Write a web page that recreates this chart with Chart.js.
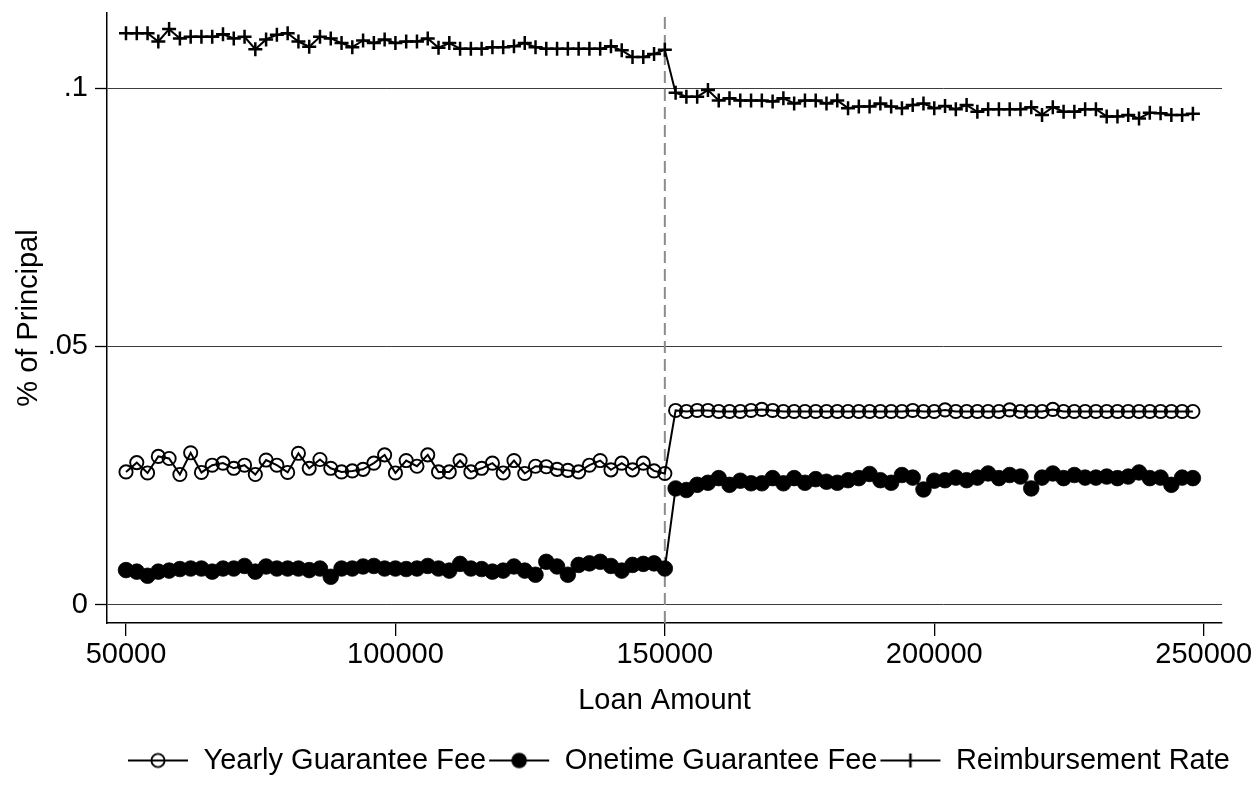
<!DOCTYPE html>
<html>
<head>
<meta charset="utf-8">
<script src="https://cdn.jsdelivr.net/npm/chart.js@4.4.1/dist/chart.umd.min.js"></script>
<style>
  html, body { margin: 0; padding: 0; background: #fff; overflow: hidden; }
  canvas { display: block; }
</style>
</head>
<body>
<canvas id="chart" width="1256" height="790"></canvas>
<script>
// Loan amount bins (x values)
const loanAmount = [
  50000, 52000, 54000, 56000, 58000, 60000, 62000, 64000, 66000, 68000,
  70000, 72000, 74000, 76000, 78000, 80000, 82000, 84000, 86000, 88000,
  90000, 92000, 94000, 96000, 98000, 100000, 102000, 104000, 106000, 108000,
  110000, 112000, 114000, 116000, 118000, 120000, 122000, 124000, 126000, 128000,
  130000, 132000, 134000, 136000, 138000, 140000, 142000, 144000, 146000, 148000,
  150000, 152000, 154000, 156000, 158000, 160000, 162000, 164000, 166000, 168000,
  170000, 172000, 174000, 176000, 178000, 180000, 182000, 184000, 186000, 188000,
  190000, 192000, 194000, 196000, 198000, 200000, 202000, 204000, 206000, 208000,
  210000, 212000, 214000, 216000, 218000, 220000, 222000, 224000, 226000, 228000,
  230000, 232000, 234000, 236000, 238000, 240000, 242000, 244000, 246000, 248000
];

// Yearly guarantee fee, share of principal
const yearlyFee = [
  0.0257, 0.0275, 0.0255, 0.0287, 0.0283, 0.0252, 0.0294, 0.0256, 0.0270, 0.0274,
  0.0264, 0.0270, 0.0252, 0.0280, 0.0270, 0.0256, 0.0293, 0.0264, 0.0281, 0.0264,
  0.0257, 0.0259, 0.0262, 0.0274, 0.0290, 0.0255, 0.0279, 0.0268, 0.0290, 0.0257,
  0.0257, 0.0279, 0.0257, 0.0264, 0.0274, 0.0255, 0.0279, 0.0254, 0.0268, 0.0267,
  0.0262, 0.0260, 0.0257, 0.0270, 0.0279, 0.0261, 0.0274, 0.0261, 0.0274, 0.0259,
  0.0254, 0.0376, 0.0374, 0.0376, 0.0376, 0.0374, 0.0374, 0.0374, 0.0376, 0.0378,
  0.0376, 0.0374, 0.0374, 0.0374, 0.0374, 0.0374, 0.0374, 0.0374, 0.0374, 0.0374,
  0.0374, 0.0374, 0.0374, 0.0376, 0.0374, 0.0374, 0.0377, 0.0374, 0.0374, 0.0374,
  0.0374, 0.0374, 0.0377, 0.0374, 0.0374, 0.0374, 0.0378, 0.0374, 0.0374, 0.0374,
  0.0374, 0.0374, 0.0374, 0.0374, 0.0374, 0.0374, 0.0374, 0.0374, 0.0374, 0.0374
];

// One-time guarantee fee, share of principal
const onetimeFee = [
  0.0067, 0.0064, 0.0056, 0.0064, 0.0066, 0.0069, 0.0070, 0.0070, 0.0064, 0.0070,
  0.0070, 0.0075, 0.0064, 0.0074, 0.0070, 0.0070, 0.0070, 0.0067, 0.0070, 0.0054,
  0.0070, 0.0070, 0.0074, 0.0075, 0.0070, 0.0070, 0.0069, 0.0070, 0.0075, 0.0070,
  0.0066, 0.0079, 0.0070, 0.0069, 0.0064, 0.0066, 0.0074, 0.0066, 0.0058, 0.0083,
  0.0074, 0.0058, 0.0077, 0.0080, 0.0083, 0.0075, 0.0066, 0.0077, 0.0079, 0.0080,
  0.0070, 0.0225, 0.0222, 0.0232, 0.0236, 0.0245, 0.0232, 0.0240, 0.0235, 0.0235,
  0.0245, 0.0235, 0.0245, 0.0236, 0.0243, 0.0238, 0.0236, 0.0241, 0.0245, 0.0253,
  0.0241, 0.0236, 0.0251, 0.0246, 0.0223, 0.0240, 0.0241, 0.0246, 0.0241, 0.0246,
  0.0254, 0.0245, 0.0251, 0.0248, 0.0225, 0.0246, 0.0254, 0.0245, 0.0251, 0.0246,
  0.0246, 0.0248, 0.0245, 0.0248, 0.0256, 0.0245, 0.0246, 0.0232, 0.0246, 0.0245
];

// Reimbursement rate, share of principal
const reimbursementRate = [
  0.1106, 0.1106, 0.1106, 0.1090, 0.1114, 0.1096, 0.1099, 0.1099, 0.1099, 0.1104,
  0.1096, 0.1099, 0.1075, 0.1094, 0.1103, 0.1106, 0.1090, 0.1080, 0.1099, 0.1096,
  0.1087, 0.1079, 0.1092, 0.1087, 0.1094, 0.1087, 0.1090, 0.1090, 0.1096, 0.1078,
  0.1087, 0.1076, 0.1076, 0.1076, 0.1079, 0.1079, 0.1081, 0.1087, 0.1079, 0.1076,
  0.1076, 0.1076, 0.1076, 0.1076, 0.1076, 0.1081, 0.1073, 0.1060, 0.1060, 0.1066,
  0.1074, 0.0991, 0.0983, 0.0983, 0.0996, 0.0976, 0.0980, 0.0976, 0.0976, 0.0976,
  0.0974, 0.0980, 0.0970, 0.0976, 0.0976, 0.0970, 0.0976, 0.0961, 0.0964, 0.0964,
  0.0970, 0.0964, 0.0961, 0.0967, 0.0970, 0.0961, 0.0965, 0.0959, 0.0967, 0.0954,
  0.0959, 0.0959, 0.0959, 0.0959, 0.0963, 0.0948, 0.0963, 0.0954, 0.0954, 0.0959,
  0.0959, 0.0945, 0.0945, 0.0948, 0.0941, 0.0952, 0.0951, 0.0948, 0.0948, 0.0950
];

const seriesNames = ['Yearly Guarantee Fee', 'Onetime Guarantee Fee', 'Reimbursement Rate'];
const xTickValues = [50000, 100000, 150000, 200000, 250000];
const yTickValues = [0, 0.05, 0.1];
const yTickLabels = ['0', '.05', '.1'];
const cutoffAmount = 150000;
const xRange = [46474, 253400];
const yRange = [-0.00354, 0.11452];

const FONT = '"Liberation Sans", Arial, Helvetica, sans-serif';
const FS = 29;
Chart.defaults.font.family = FONT;
Chart.defaults.font.size = FS;
Chart.defaults.color = '#000';

const toPoints = values => loanAmount.map((x, i) => ({ x, y: values[i] }));

// Marker geometry shared by the plot and the legend swatches
const MARK = {
  hollow: { radius: 6.6, border: 1.9 },
  filled: { radius: 7.8, border: 0.8 },
  plus:   { radius: 7.0, border: 2.5 }
};

const SWATCH_W = 62;

// Line-with-marker swatches for the legend
function legendSwatch(kind) {
  const c = document.createElement('canvas');
  c.width = SWATCH_W; c.height = 22;
  const g = c.getContext('2d');
  const cx = SWATCH_W / 2, cy = 11;
  g.strokeStyle = '#000';
  g.fillStyle = '#000';
  g.lineWidth = 2;
  g.beginPath(); g.moveTo(1, cy); g.lineTo(SWATCH_W - 1, cy); g.stroke();
  if (kind === 'hollow') {
    g.lineWidth = MARK.hollow.border;
    g.beginPath(); g.arc(cx, cy, MARK.hollow.radius, 0, Math.PI * 2); g.stroke();
  } else if (kind === 'filled') {
    g.beginPath(); g.arc(cx, cy, MARK.filled.radius, 0, Math.PI * 2); g.fill();
  } else {
    g.lineWidth = MARK.plus.border;
    g.beginPath(); g.moveTo(cx, cy - MARK.plus.radius); g.lineTo(cx, cy + MARK.plus.radius); g.stroke();
  }
  return c;
}
const swatches = [legendSwatch('hollow'), legendSwatch('filled'), legendSwatch('plus')];

const LEGEND_START_X = 127;
const LEGEND_PAD = 2;

const legendPlacement = {
  id: 'legendPlacement',
  afterLayout(chart) {
    if (chart.legend) {
      const w = chart.legend.right - chart.legend.left;
      chart.legend.left = LEGEND_START_X - LEGEND_PAD;
      chart.legend.right = chart.legend.left + w;
    }
  }
};

const lineStyle = { borderColor: '#000', borderWidth: 2, tension: 0, fill: false, order: 1 };

new Chart(document.getElementById('chart'), {
  type: 'line',
  data: {
    datasets: [
      Object.assign({}, lineStyle, {
        label: seriesNames[0],
        data: toPoints(yearlyFee),
        pointStyle: 'circle',
        pointRadius: MARK.hollow.radius,
        pointBorderWidth: MARK.hollow.border,
        pointBorderColor: '#000',
        pointBackgroundColor: 'rgba(0,0,0,0)'
      }),
      Object.assign({}, lineStyle, {
        label: seriesNames[1],
        data: toPoints(onetimeFee),
        pointStyle: 'circle',
        pointRadius: MARK.filled.radius,
        pointBorderWidth: MARK.filled.border,
        pointBorderColor: '#000',
        pointBackgroundColor: '#000'
      }),
      Object.assign({}, lineStyle, {
        label: seriesNames[2],
        data: toPoints(reimbursementRate),
        pointStyle: 'cross',
        pointRadius: MARK.plus.radius,
        pointBorderWidth: MARK.plus.border,
        pointBorderColor: '#000',
        pointBackgroundColor: '#000'
      }),
      {
        label: 'cutoff',
        data: [{ x: cutoffAmount, y: yRange[0] }, { x: cutoffAmount, y: yRange[1] }],
        borderColor: '#8c8c8c',
        borderWidth: 2,
        borderDash: [12, 6],
        pointRadius: 0,
        fill: false,
        order: 10
      }
    ]
  },
  options: {
    responsive: false,
    devicePixelRatio: 1,
    animation: false,
    events: [],
    clip: false,
    layout: { padding: { left: 0, top: 13, right: 34, bottom: 5 } },
    plugins: {
      tooltip: { enabled: false },
      legend: {
        position: 'bottom',
        align: 'start',
        labels: {
          usePointStyle: true,
          pointStyleWidth: SWATCH_W,
          padding: LEGEND_PAD,
          color: '#000',
          font: { family: FONT, size: FS },
          generateLabels: () => seriesNames.map((name, i) => ({
            text: name,
            pointStyle: swatches[i],
            datasetIndex: i,
            hidden: false,
            lineWidth: 0,
            fillStyle: '#000',
            strokeStyle: '#000',
            fontColor: '#000'
          }))
        }
      }
    },
    scales: {
      x: {
        type: 'linear',
        min: xRange[0],
        max: xRange[1],
        afterBuildTicks: s => { s.ticks = xTickValues.map(v => ({ value: v })); },
        afterFit: s => {
          const legendH = s.chart.legend ? s.chart.legend.height : 0;
          s.height = 790 - 5 - legendH - 623;
          s.paddingLeft = 0;
          s.paddingRight = 0;
        },
        ticks: {
          callback: v => String(v),
          padding: 2,
          maxRotation: 0,
          autoSkip: false,
          color: '#000',
          font: { size: FS }
        },
        grid: { drawOnChartArea: false, drawTicks: true, tickLength: 13, color: '#000', lineWidth: 1.3 },
        border: { display: true, color: '#000', width: 1.5 },
        title: { display: true, text: 'Loan Amount', color: '#000', font: { size: FS }, padding: { top: 0, bottom: 26 } }
      },
      y: {
        type: 'linear',
        min: yRange[0],
        max: yRange[1],
        afterBuildTicks: s => { s.ticks = yTickValues.map(v => ({ value: v })); },
        afterFit: s => { s.width = 107; s.paddingTop = 0; s.paddingBottom = 0; },
        ticks: {
          callback: v => yTickLabels[yTickValues.indexOf(v)],
          padding: 7,
          color: '#000',
          font: { size: FS }
        },
        grid: { color: '#3c3c3c', lineWidth: 1, tickLength: 12, tickColor: '#000', tickWidth: 1.3 },
        border: { display: true, color: '#000', width: 1.5 },
        title: { display: true, text: '% of Principal', color: '#000', font: { size: FS }, padding: { top: 12, bottom: 0 } }
      }
    }
  },
  plugins: [legendPlacement]
});
</script>
</body>
</html>
